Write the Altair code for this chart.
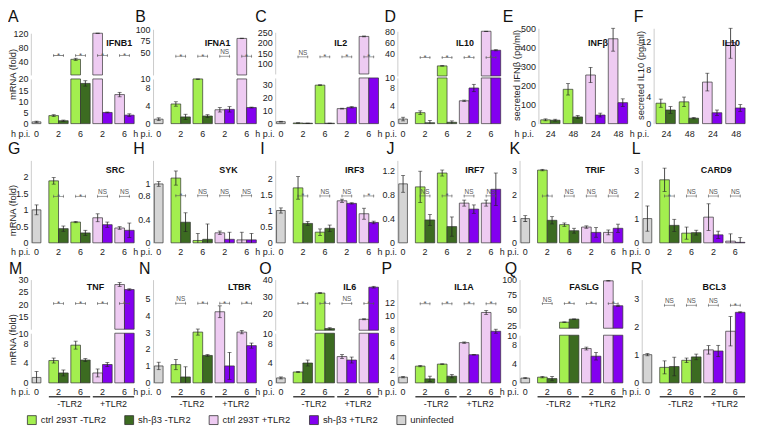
import altair as alt
import pandas as pd

FONT = "Liberation Sans"
SERIES = ["ctrl 293T -TLR2", "sh-β3 -TLR2", "ctrl 293T +TLR2", "sh-β3 +TLR2", "uninfected"]
COLORS = ["#a3ef4f", "#3c6b21", "#eecbf2", "#8300ef", "#d5d5d5"]

GROUPS_MRNA = ["0", "2|-", "6|-", "2|+", "6|+"]
GROUPS_SEC = ["24|-", "48|-", "24|+", "48|+"]
TLR_LABELS = ["-TLR2", "+TLR2"]

# order: uninfected 0 h, then (ctrl, sh-β3) pairs at 2 h -TLR2, 6 h -TLR2, 2 h +TLR2, 6 h +TLR2
IFNB1_VAL = [0.8, 3.6, 1.3, 45, 18, 125, 5.0, 13, 3.8]
IFNB1_ERR = [0.3, 0.4, 0.3, 3, 1.2, 1.5, 0.2, 1.0, 0.6]
IFNB1_SIG = ["*", "*", "*", "*"]
IFNA1_VAL = [1.0, 4.4, 1.5, 10.0, 1.7, 3.1, 3.2, 80, 3.6]
IFNA1_ERR = [0.3, 0.5, 0.6, 0.15, 0.3, 0.5, 0.6, 0.5, 0.1]
IFNA1_SIG = ["*", "*", "NS", "*"]
IL2_VAL = [1.5, 0.5, 0.3, 29.5, 0.3, 11.5, 12.5, 230, 36]
IL2_ERR = [0.3, 0.1, 0.1, 0.3, 0.1, 0.3, 0.5, 2, 0]
IL2_SIG = ["NS", "*", "*", "*"]
IL10_VAL = [1.0, 2.4, 0.2, 18, 0.3, 5.0, 7.8, 80, 46]
IL10_ERR = [0.4, 0.4, 0.5, 0.5, 0.3, 0.15, 0.8, 0.5, 1.0]
IL10_SIG = ["*", "*", "*", "*"]
# secreted: (ctrl, sh-β3) pairs at 24 h -TLR2, 48 h -TLR2, 24 h +TLR2, 48 h +TLR2
IFNB_SEC_VAL = [20, 18, 180, 35, 255, 45, 445, 110]
IFNB_SEC_ERR = [5, 5, 30, 8, 40, 10, 65, 20]
IL10_SEC_VAL = [3.0, 2.0, 3.2, 0.8, 6.1, 1.6, 11.9, 2.3]
IL10_SEC_ERR = [0.6, 0.5, 0.7, 0.1, 1.3, 0.4, 2.3, 0.5]

SRC_VAL = [1.0, 1.88, 0.43, 0.63, 0.3, 0.76, 0.55, 0.45, 0.38]
SRC_ERR = [0.15, 0.1, 0.08, 0.02, 0.08, 0.12, 0.08, 0.04, 0.22]
SRC_SIG = ["*", "*", "NS", "NS"]
SYK_VAL = [1.0, 1.1, 0.35, 0.04, 0.06, 0.17, 0.06, 0.05, 0.05]
SYK_ERR = [0.04, 0.12, 0.16, 0.12, 0.26, 0.03, 0.12, 0.13, 0.11]
SYK_SIG = ["*", "NS", "NS", "NS"]
IRF3_VAL = [1.0, 1.7, 0.6, 0.33, 0.45, 1.3, 1.22, 0.9, 0.63]
IRF3_ERR = [0.08, 0.35, 0.06, 0.1, 0.1, 0.05, 0.02, 0.17, 0.04]
IRF3_SIG = ["*", "NS", "NS", "*"]
IRF7_VAL = [0.98, 0.93, 0.38, 1.16, 0.27, 0.66, 0.56, 0.66, 0.89]
IRF7_ERR = [0.14, 0.26, 0.09, 0.05, 0.16, 0.05, 0.07, 0.05, 0.27]
IRF7_SIG = ["NS", "*", "NS", "NS"]
TRIF_VAL = [1.0, 3.0, 0.93, 0.75, 0.5, 0.65, 0.43, 0.43, 0.6]
TRIF_ERR = [0.12, 0.03, 0.15, 0.07, 0.1, 0.05, 0.2, 0.1, 0.17]
TRIF_SIG = ["*", "NS", "NS", "NS"]
CARD9_VAL = [1.0, 2.6, 0.72, 0.4, 0.42, 1.06, 0.33, 0.07, 0.02]
CARD9_ERR = [0.52, 0.48, 0.25, 0.25, 0.1, 0.55, 0.15, 0.3, 0.2]
CARD9_SIG = ["*", "NS", "NS", "NS"]

TNF_VAL = [1.1, 4.5, 2.0, 7.6, 4.6, 2.0, 3.7, 28, 26]
TNF_ERR = [1.2, 0.5, 0.6, 0.8, 0.3, 0.8, 0.4, 0.8, 0.3]
TNF_SIG = ["*", "*", "*", "*"]
LTBR_VAL = [1.0, 1.08, 0.35, 3.0, 1.62, 4.2, 1.0, 3.0, 2.2]
LTBR_ERR = [0.22, 0.3, 0.6, 0.18, 0.05, 0.35, 0.8, 0.1, 0.15]
LTBR_SIG = ["NS", "*", "*", "*"]
IL6_VAL = [1.0, 2.2, 4.0, 32, 11, 5.3, 4.6, 16.5, 35.5]
IL6_ERR = [0.2, 0.1, 0.6, 0.3, 0.5, 0.4, 0.6, 0.3, 0.5]
IL6_SIG = ["*", "*", "NS", "*"]
IL1A_VAL = [0.85, 2.5, 0.6, 2.8, 1.0, 6.0, 4.2, 10.5, 7.7]
IL1A_ERR = [0.1, 0.1, 0.4, 0.05, 0.25, 0.1, 0.05, 0.3, 0.3]
IL1A_SIG = ["*", "*", "*", "*"]
FASLG_VAL = [1.0, 1.2, 0.9, 30, 35, 7.2, 5.6, 98, 57]
FASLG_ERR = [0.1, 0.15, 0.45, 0.5, 0.4, 0.3, 0.8, 0.4, 1.0]
FASLG_SIG = ["NS", "*", "*", "*"]
BCL3_VAL = [1.0, 0.55, 0.58, 0.8, 0.92, 1.17, 1.13, 1.83, 2.5]
BCL3_ERR = [0.04, 0.23, 0.33, 0.08, 0.1, 0.15, 0.2, 0.52, 0.02]
BCL3_SIG = ["NS", "NS", "NS", "*"]

STROKE = "#333333"
ERRC = "#222222"
SIGC = "#555555"
PI = 0.12
W = 104

COLOR = alt.Color(
    "series:N",
    scale=alt.Scale(domain=SERIES, range=COLORS),
    legend=alt.Legend(
        orient="none", legendX=-4, legendY=389, direction="horizontal", title=None,
        symbolType="square", symbolSize=80, symbolStrokeColor=STROKE, symbolStrokeWidth=0.8,
        labelFontSize=9.5, labelFont=FONT, labelColor="#222", columnPadding=16, labelOffset=4,
    ),
)

H1, H2, H3 = 96, 83, 104
R1 = dict(h=H1, lp=6, gy=18)
R2 = dict(h=H2, lp=4.5, gy=13)
R3 = dict(h=H3, lp=5, gy=10)

PANELS = {
    "A": dict(R1, name="IFNB1", val=IFNB1_VAL, err=IFNB1_ERR, sig=IFNB1_SIG, lvl=56, ldx=-23, gx=89,
              yt="mRNA (fold)", ytx=-23, yty=46,
              lower=dict(domain=[0, 20], range=[96, 51], ticks=[0, 5, 10, 15, 20]),
              upper=dict(domain=[0, 120], range=[47, 5], ticks=[40, 80, 120])),
    "B": dict(R1, name="IFNA1", val=IFNA1_VAL, err=IFNA1_ERR, sig=IFNA1_SIG, lvl=41, ldx=-18, gx=65,
              lower=dict(domain=[0, 10], range=[96, 51], ticks=[0, 4, 8, 10]),
              upper=dict(domain=[0, 100], range=[47, 1], ticks=[50, 75, 100])),
    "C": dict(R1, name="IL2", val=IL2_VAL, err=IL2_ERR, sig=IL2_SIG, lvl=132, ldx=-20, gx=66,
              lower=dict(domain=[0, 35], range=[96, 50], ticks=[0, 10, 20, 30]),
              upper=dict(domain=[50, 250], range=[46, 4], ticks=[100, 150, 200, 250])),
    "D": dict(R1, name="IL10", val=IL10_VAL, err=IL10_ERR, sig=IL10_SIG, lvl=33, ldx=-13, gx=68,
              lower=dict(domain=[0, 10], range=[96, 50], ticks=[0, 4, 8, 10]),
              upper=dict(domain=[0, 80], range=[48, 3], ticks=[40, 60, 80])),
    "E": dict(R1, name="INFβ", val=IFNB_SEC_VAL, err=IFNB_SEC_ERR, ldx=-17, gx=79, x0=19, x1=112,
              yt="secreted IFNβ (pg/ml)", ytx=-27, yty=47,
              y=dict(domain=[0, 500], ticks=[0, 100, 200, 300, 400, 500])),
    "F": dict(R1, name="IL10", val=IL10_SEC_VAL, err=IL10_SEC_ERR, ldx=-8, gx=90, x0=12, x1=108,
              yt="secreted IL10 (pg/ml)", ytx=-18, yty=47,
              y=dict(domain=[0, 14], ticks=[0, 4, 8, 12])),
    "G": dict(R2, name="SRC", val=SRC_VAL, err=SRC_ERR, sig=SRC_SIG, lvl=1.41, ldx=-23, gx=85,
              yt="mRNA (fold)", ytx=-23, yty=50,
              y=dict(domain=[0, 2.5], ticks=[0, 0.5, 1, 1.5, 2])),
    "H": dict(R2, name="SYK", val=SYK_VAL, err=SYK_ERR, sig=SYK_SIG, lvl=0.8, ldx=-20, gx=76,
              y=dict(domain=[0, 1.4], ticks=[0, 0.4, 0.8, 1])),
    "I": dict(R2, name="IRF3", val=IRF3_VAL, err=IRF3_ERR, sig=IRF3_SIG, lvl=1.45, ldx=-15, gx=80,
              y=dict(domain=[0, 2.55], ticks=[0, 0.5, 1, 1.5, 2])),
    "J": dict(R2, name="IRF7", val=IRF7_VAL, err=IRF7_ERR, sig=IRF7_SIG, lvl=0.78, ldx=-11, gx=78,
              y=dict(domain=[0, 1.37], ticks=[0, 0.4, 0.8, 1.2])),
    "K": dict(R2, name="TRIF", val=TRIF_VAL, err=TRIF_ERR, sig=TRIF_SIG, lvl=1.93, ldx=-10, gx=76,
              y=dict(domain=[0, 3.4], ticks=[0, 1, 2, 3])),
    "L": dict(R2, name="CARD9", val=CARD9_VAL, err=CARD9_ERR, sig=CARD9_SIG, lvl=1.93, ldx=-10, gx=75,
              y=dict(domain=[0, 3.4], ticks=[0, 1, 2, 3])),
    "M": dict(R3, name="TNF", val=TNF_VAL, err=TNF_ERR, sig=TNF_SIG, lvl=20.4, ldx=-22, gx=65, tlr=True,
              yt="mRNA (fold)", ytx=-23, yty=60,
              lower=dict(domain=[0, 10], range=[104, 54], ticks=[0, 4, 8, 10]),
              upper=dict(domain=[10, 30], range=[50, 0], ticks=[15, 20, 25, 30])),
    "N": dict(R3, name="LTBR", val=LTBR_VAL, err=LTBR_ERR, sig=LTBR_SIG, lvl=4.7, ldx=-14, gx=87, tlr=True,
              y=dict(domain=[0, 6.1], ticks=[0, 1, 2, 3, 4, 5])),
    "O": dict(R3, name="IL6", val=IL6_VAL, err=IL6_ERR, sig=IL6_SIG, lvl=25.9, ldx=-16, gx=75, tlr=True,
              lower=dict(domain=[0, 10], range=[104, 54], ticks=[0, 4, 8, 10]),
              upper=dict(domain=[10, 40], range=[51, 0], ticks=[20, 30, 40])),
    "P": dict(R3, name="IL1A", val=IL1A_VAL, err=IL1A_ERR, sig=IL1A_SIG, lvl=11.8, ldx=-16, gx=67, tlr=True,
              y=dict(domain=[0, 15.4], ticks=[0, 2, 4, 6, 8, 10, 12])),
    "Q": dict(R3, name="FASLG", val=FASLG_VAL, err=FASLG_ERR, sig=FASLG_SIG, lvl=60.5, ldx=-15, gx=65, tlr=True,
              lower=dict(domain=[0, 10], range=[104, 56], ticks=[0, 4, 8, 10]),
              upper=dict(domain=[20, 100], range=[49, 0], ticks=[25, 50, 75, 100])),
    "R": dict(R3, name="BCL3", val=BCL3_VAL, err=BCL3_ERR, sig=BCL3_SIG, lvl=2.75, ldx=-11, gx=73, tlr=True,
              y=dict(domain=[0, 3.66], ticks=[0, 1, 2, 3])),
}


def make_df(vals, errs, groups):
    rows = []
    i = 0
    pair_groups = groups
    if groups[0] == "0":
        rows.append({"group": "0", "sub": "c", "series": SERIES[4], "val": vals[0], "err": errs[0]})
        i = 1
        pair_groups = groups[1:]
    for k, g in enumerate(pair_groups):
        a, b = (SERIES[2], SERIES[3]) if k >= 2 else (SERIES[0], SERIES[1])
        rows.append({"group": g, "sub": "a", "series": a, "val": vals[i], "err": errs[i]})
        rows.append({"group": g, "sub": "b", "series": b, "val": vals[i + 1], "err": errs[i + 1]})
        i += 2
    df = pd.DataFrame(rows)
    df["lo"] = (df["val"] - df["err"]).clip(lower=0)
    df["hi"] = df["val"] + df["err"]
    return df


def y_maker(spec, title=None, tx=None, ty=None, offset=0):
    kw = dict(values=spec["ticks"], orient="left", ticks=False, grid=False, domainColor="#cccccc",
              domainWidth=1, labelFontSize=9, labelPadding=3, labelExpr="toString(datum.value)",
              labelOverlap=False, labelFlush=False, title=title, offset=offset)
    if title:
        kw.update(titleX=tx, titleY=ty, titleAngle=270, titleBaseline="top", titleAlign="center",
                  titleFontSize=9.5, titleFontWeight="normal")
    axis = alt.Axis(**kw)
    skw = dict(domain=spec["domain"], clamp=True, nice=False, zero=False)
    if "range" in spec:
        skw["range"] = spec["range"]
    scale = alt.Scale(**skw)

    def Yf(field):
        return alt.Y(f"{field}:Q", scale=scale, axis=axis)
    return Yf


def data_layers(df_bar, df_err, X, XO, Yf, base=None):
    out = []
    y2 = {} if base is None else {"y2": alt.datum(base)}
    g = df_bar[df_bar["sub"] == "c"]
    p = df_bar[df_bar["sub"] != "c"]
    if len(g):
        out.append(alt.Chart(g).mark_bar(width=alt.RelativeBandSize(0.45), stroke=STROKE, strokeWidth=0.7)
                   .encode(x=X(), y=Yf("val"), color=COLOR, **y2))
    if len(p):
        out.append(alt.Chart(p).mark_bar(stroke=STROKE, strokeWidth=0.7)
                   .encode(x=X(), xOffset=XO, y=Yf("val"), color=COLOR, **y2))
    for sub_df, off in ((df_err[df_err["sub"] == "c"], False), (df_err[df_err["sub"] != "c"], True)):
        sub_df = sub_df[sub_df["err"] > 0]
        if not len(sub_df):
            continue
        enc = {"x": X()}
        if off:
            enc["xOffset"] = XO
        out.append(alt.Chart(sub_df).mark_rule(color=ERRC, strokeWidth=0.8)
                   .encode(y=Yf("lo"), y2="hi", **enc))
        out.append(alt.Chart(sub_df).mark_tick(orient="horizontal", size=4, thickness=0.8, color=ERRC)
                   .encode(y=Yf("hi"), **enc))
        lo_df = sub_df[sub_df["lo"] > 0]
        if len(lo_df):
            out.append(alt.Chart(lo_df).mark_tick(orient="horizontal", size=4, thickness=0.8, color=ERRC)
                       .encode(y=Yf("lo"), **enc))
    return out


def sig_layers(sig, lvl, groups, X, XO, Yf):
    pg = groups[-4:]
    ds = pd.DataFrame({"group": pg, "sig": sig, "level": [lvl] * 4})
    caps = pd.DataFrame({"group": pg * 2, "sub": ["a"] * 4 + ["b"] * 4, "level": [lvl] * 8})
    out = [
        alt.Chart(ds).mark_tick(orient="horizontal", size=11, thickness=0.8, color=SIGC)
        .encode(x=X(), y=Yf("level")),
        alt.Chart(caps).mark_tick(orient="vertical", size=3, thickness=0.8, color=SIGC)
        .encode(x=X(), xOffset=XO, y=Yf("level")),
    ]
    star = ds[ds["sig"] == "*"]
    ns = ds[ds["sig"] == "NS"]
    if len(star):
        out.append(alt.Chart(star).mark_text(fontSize=8, dy=2.5, baseline="alphabetic", color=SIGC)
                   .encode(x=X(), y=Yf("level"), text="sig:N"))
    if len(ns):
        out.append(alt.Chart(ns).mark_text(fontSize=6.5, dy=-2, baseline="alphabetic", color=SIGC)
                   .encode(x=X(), y=Yf("level"), text="sig:N"))
    return out


def panel(letter):
    p = PANELS[letter]
    H = p["h"]
    sec = "sig" not in p
    groups = GROUPS_SEC if sec else GROUPS_MRNA
    df = make_df(p["val"], p["err"], groups)
    if sec:
        xs = alt.Scale(domain=groups, range=[p["x0"], p["x1"]], paddingInner=0.1, paddingOuter=0.1)
        hpx = p["x0"] - 5
        yoff = -p["x0"]
    else:
        xs = alt.Scale(domain=groups, range=[-4, W], paddingInner=PI, paddingOuter=0)
        hpx = -1
        yoff = 0
    xaxis = alt.Axis(title="h p.i.", labelExpr="split(datum.label, '|')[0]", ticks=False, domain=False,
                     labelPadding=p["lp"], labelFontSize=9, labelAngle=0, labelBaseline="top",
                     titleX=hpx, titleY=p["lp"], titleAlign="right", titleBaseline="top",
                     titleFontWeight="normal", titleFontSize=9, labelColor="#222")

    def X(field="group", **kw):
        return alt.X(f"{field}:N", scale=xs, axis=xaxis, **kw)

    XO = alt.XOffset("sub:N", scale=alt.Scale(domain=["a", "b"], paddingInner=0, paddingOuter=0))

    one = pd.DataFrame({"k": [0]})
    deco = [
        alt.Chart(one).mark_text(align="left", baseline="alphabetic", fontSize=16, color="#111")
        .encode(x=alt.value(p["ldx"]), y=alt.value(-6), text=alt.value(letter)),
        alt.Chart(one).mark_text(align="center", baseline="alphabetic", fontSize=9, fontWeight="bold", color="#111")
        .encode(x=alt.value(p["gx"]), y=alt.value(p["gy"]), text=alt.value(p["name"])),
    ]
    if p.get("tlr"):
        tl = pd.DataFrame({"gs": ["2|-", "2|+"], "ge": ["6|-", "6|+"], "lab": TLR_LABELS})
        deco.append(alt.Chart(tl).mark_rule(color="#444", strokeWidth=1.6)
                    .encode(x=X("gs", bandPosition=0), x2=alt.X2("ge:N", bandPosition=1), y=alt.value(H + 14)))
        deco.append(alt.Chart(tl).mark_text(fontSize=9, baseline="middle", color="#222", dx=1.4)
                    .encode(x=X("gs", bandPosition=1), y=alt.value(H + 21), text="lab:N"))

    if "lower" in p:
        lo, up = p["lower"], p["upper"]
        Ylo = y_maker(lo, p.get("yt"), p.get("ytx"), p.get("yty"))
        Yup = y_maker(up)
        lowmax = lo["domain"][1]
        umin = up["domain"][0]
        err_lo = df[df["val"] <= lowmax]
        df_up = df[(df["val"] > lowmax) & (df["val"] > umin)]
        lower = alt.layer(*data_layers(df, err_lo, X, XO, Ylo), *deco)
        up_layers = data_layers(df_up, df_up, X, XO, Yup, base=umin)
        up_layers += sig_layers(p["sig"], p["lvl"], groups, X, XO, Yup)
        upper = alt.layer(*up_layers)
        ch = alt.layer(lower, upper).resolve_scale(y="independent")
    else:
        Yf = y_maker(p["y"], p.get("yt"), p.get("ytx"), p.get("yty"), offset=yoff)
        layers = data_layers(df, df, X, XO, Yf)
        if not sec:
            layers += sig_layers(p["sig"], p["lvl"], groups, X, XO, Yf)
        ch = alt.layer(*layers, *deco)
    return ch.properties(width=W, height=H)


chart = (
    alt.concat(*[panel(k) for k in "ABCDEFGHIJKLMNOPQR"], columns=6,
               spacing=alt.RowColnumber(row=37, column=19), bounds="flush", align="each", padding=0)
    .configure(font=FONT)
    .configure_view(stroke=None)
    .configure_axis(labelFont=FONT, titleFont=FONT, labelColor="#222", titleColor="#222")
    .configure_text(font=FONT)
)

chart.save("out.html", embed_options={"renderer": "svg", "actions": False})
